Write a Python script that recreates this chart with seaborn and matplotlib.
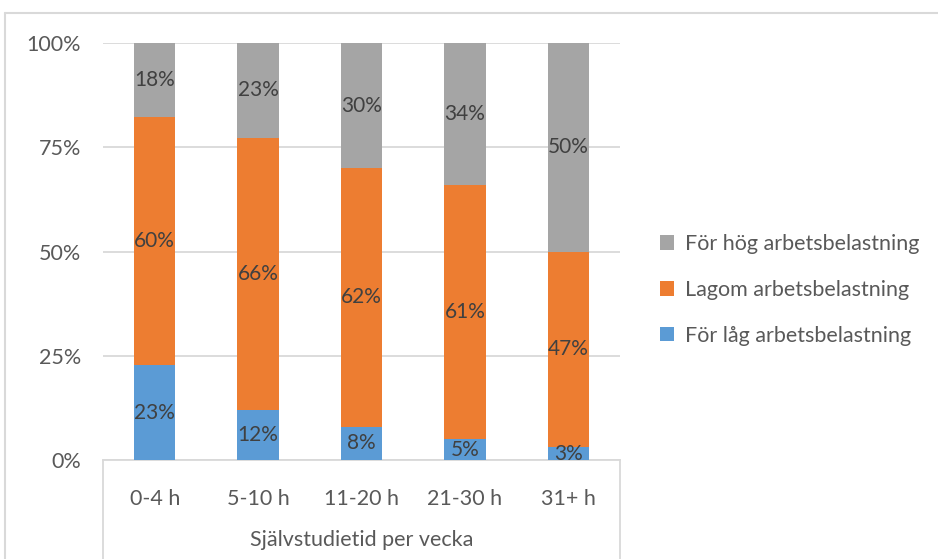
import numpy as np
import pandas as pd
import seaborn as sns
from matplotlib import pyplot as plt
from matplotlib.lines import Line2D

categories = ["0-4 h", "5-10 h", "11-20 h", "21-30 h", "31+ h"]
low = [23, 12, 8, 5, 3]        # För låg arbetsbelastning
mid = [60, 66, 62, 61, 47]     # Lagom arbetsbelastning
high = [18, 23, 30, 34, 50]    # För hög arbetsbelastning
labels = ["För låg arbetsbelastning", "Lagom arbetsbelastning", "För hög arbetsbelastning"]
colors = ["#5B9BD5", "#ED7D31", "#A5A5A5"]
x_title = "Självstudietid per vecka"

sns.set_theme(style="white")
plt.rcParams["font.family"] = ["Lato", "DejaVu Sans"]
text_col = "#595959"
grid_col = "#D9D9D9"
fs = 15.5

# 100% stacked: normalise each column
total = np.array(low) + np.array(mid) + np.array(high)
low_s = np.array(low) / total
mid_s = np.array(mid) / total
high_s = np.array(high) / total

df = pd.DataFrame({
    "cat": categories,
    "low": low_s,
    "lowmid": low_s + mid_s,
    "all": low_s + mid_s + high_s,
})

fig = plt.figure(figsize=(9.38, 5.59), dpi=100)
ax = fig.add_axes([103 / 938, 1 - 460 / 559, 517 / 938, 417 / 559])

# draw back to front
for col, c, lab in [("all", colors[2], labels[2]),
                    ("lowmid", colors[1], labels[1]),
                    ("low", colors[0], labels[0])]:
    sns.barplot(data=df, x="cat", y=col, color=c, width=0.4, saturation=1,
                label=lab, ax=ax, zorder=3, linewidth=0)

# data labels
for i in range(len(categories)):
    segs = [(0, low_s[i], low[i]),
            (low_s[i], low_s[i] + mid_s[i], mid[i]),
            (low_s[i] + mid_s[i], 1.0, high[i])]
    for b, t, v in segs:
        ax.text(i, (b + t) / 2, f"{v}%", ha="center", va="center",
                fontsize=15, color="#404040", zorder=4)

ax.set_ylim(0, 1)
ax.set_xlim(-0.5, len(categories) - 0.5)
ax.set_yticks([0, 0.25, 0.5, 0.75, 1.0])
ax.set_yticklabels(["0%", "25%", "50%", "75%", "100%"])
ax.yaxis.grid(True, color=grid_col, linewidth=1.3, zorder=0)
ax.tick_params(axis="y", length=0, pad=16, labelsize=fs, labelcolor=text_col)
ax.tick_params(axis="x", length=0, pad=21, labelsize=fs, labelcolor=text_col)
ax.set_xlabel("")
ax.set_ylabel("")
for s in ["top", "right", "left"]:
    ax.spines[s].set_visible(False)
ax.spines["bottom"].set_color(grid_col)
ax.spines["bottom"].set_linewidth(1.3)

# multi-level category axis title and separators
ax.text(0.5, -0.192, x_title, transform=ax.transAxes, ha="center", va="center",
        fontsize=fs, color=text_col)
for xx in (0, 1):
    ax.add_line(Line2D([xx, xx], [0, -0.3], transform=ax.transAxes, color=grid_col,
                       linewidth=1.3, clip_on=False))

# chart frame
fig.add_artist(Line2D([5 / 938, 5 / 938], [0, 1 - 13 / 559], transform=fig.transFigure,
                      color=grid_col, linewidth=1.5))
fig.add_artist(Line2D([5 / 938, 1], [1 - 13 / 559, 1 - 13 / 559], transform=fig.transFigure,
                      color=grid_col, linewidth=1.5))

handles, labs = ax.get_legend_handles_labels()
order = [labs.index(l) for l in labels[::-1]]
leg = ax.legend([handles[k] for k in order], [labs[k] for k in order],
                loc="center left", bbox_to_anchor=(641 / 938, 1 - 290 / 559),
                bbox_transform=fig.transFigure, frameon=False, fontsize=fs,
                handlelength=0.65, handleheight=0.65, handletextpad=0.5, labelspacing=1.2)
for t in leg.get_texts():
    t.set_color(text_col)

fig.savefig("out.png", dpi=100)
